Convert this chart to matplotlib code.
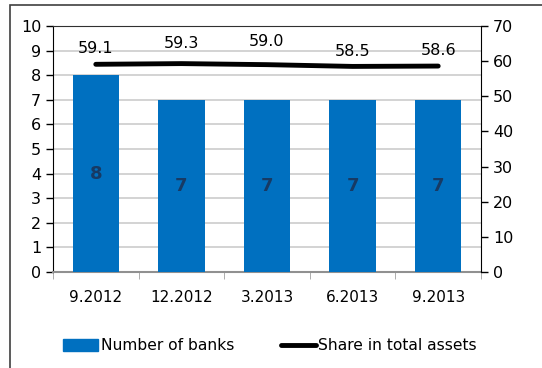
import numpy as np
import matplotlib
matplotlib.use('Agg')
import matplotlib.pyplot as plt
from matplotlib.patches import Rectangle
from matplotlib.lines import Line2D

# --- Data ---
periods = ['9.2012', '12.2012', '3.2013', '6.2013', '9.2013']
num_banks = [8, 7, 7, 7, 7]
share_assets = [59.1, 59.3, 59.0, 58.5, 58.6]

# vertical nudge (points) of each share label above the line
label_lift = [6, 9, 11, 5, 6]

bar_color = '#0070C0'
label_color = '#173A64'

plt.rcParams['font.family'] = 'DejaVu Sans'
plt.rcParams['font.size'] = 11

fig = plt.figure(figsize=(5.42, 3.68), dpi=100)

# outer frame (only top/left edge fall inside the image)
fig.patches.append(Rectangle((10 / 542, -0.1), 1.2, (368 - 5) / 368 + 0.1,
                             transform=fig.transFigure, fill=False,
                             edgecolor='#404040', linewidth=1.2))

ax = fig.add_axes([53 / 542, 1 - 272 / 368, (481 - 53) / 542, (272 - 26) / 368])
x = np.arange(len(periods))

ax.bar(x, num_banks, width=0.54, color=bar_color, zorder=3)
for xi, v in zip(x, num_banks):
    ax.text(xi, v / 2, str(v), ha='center', va='center', color=label_color,
            fontweight='bold', fontsize=13, zorder=4)

ax.set_xlim(-0.5, len(periods) - 0.5)
ax.set_ylim(0, 10)
ax.set_yticks(range(0, 11))
ax.yaxis.grid(True, color='#CCCCCC', linewidth=1.2, zorder=0)
ax.set_xticks(x)
ax.set_xticklabels(periods)
ax.tick_params(axis='x', length=0, pad=13)
ax.set_xticks(np.arange(-0.5, len(periods)), minor=True)
ax.tick_params(axis='x', which='minor', length=5, color='#A0A0A0')
ax.tick_params(axis='y', length=5, width=1, direction='out', labelsize=11.5)

ax.spines['left'].set_color('black')
ax.spines['bottom'].set_color('#909090')
ax.spines['bottom'].set_linewidth(1.5)
ax.spines['top'].set_color('#303030')
ax.spines['right'].set_visible(False)

ax2 = ax.twinx()
ax2.plot(x, share_assets, color='black', linewidth=3.5, solid_capstyle='round', zorder=5)
for xi, v, lift in zip(x, share_assets, label_lift):
    ax2.annotate(f'{v:.1f}', (xi, v), xytext=(0, lift), textcoords='offset points',
                 ha='center', va='bottom', fontsize=11.5)
ax2.set_ylim(0, 70)
ax2.set_yticks(range(0, 71, 10))
ax2.tick_params(axis='y', length=5, width=1, direction='out', labelsize=11.5)
ax2.spines['right'].set_color('black')
ax2.spines['top'].set_visible(False)
ax2.spines['left'].set_visible(False)
ax2.spines['bottom'].set_visible(False)

handles = [Rectangle((0, 0), 1, 1, color=bar_color),
           Line2D([0], [0], color='black', linewidth=3.5, solid_capstyle='round')]
fig.legend(handles, ['Number of banks', 'Share in total assets'],
           loc='center', bbox_to_anchor=(270 / 542, 1 - 346 / 368), ncol=2,
           frameon=False, handlelength=2.25, handleheight=0.85, handletextpad=0.15,
           columnspacing=3.0, fontsize=11.2)

fig.savefig('out.png', dpi=100)
